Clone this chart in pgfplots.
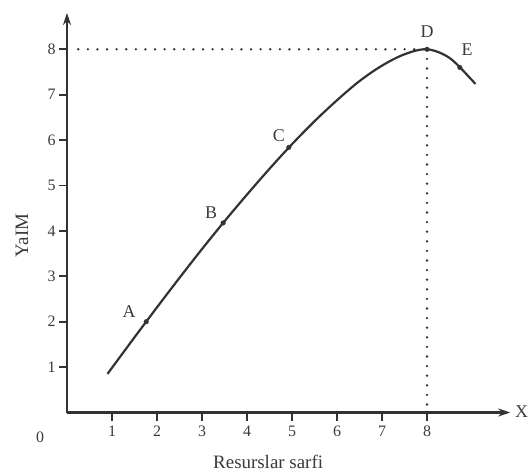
\documentclass[border=0pt]{standalone}
\usepackage{pgfplots}
\pgfplotsset{compat=1.18}
\usepackage{fontspec}
\setmainfont{Liberation Serif}
\usetikzlibrary{arrows.meta}
\definecolor{ink}{HTML}{333333}
\definecolor{txt}{HTML}{3A3A3A}
\begin{document}
\begin{tikzpicture}
\begin{axis}[
  at={(0,0)}, anchor=origin,
  x=45bp, y=45.4bp,
  xmin=0, xmax=9.85, ymin=0, ymax=8.8,
  axis lines=left,
  axis line style={ink, line width=2.3bp, -{Stealth[length=12bp,width=8bp]}},
  xtick={1,2,3,4,5,6,7,8}, ytick={1,2,3,4,5,6,7,8},
  tick align=outside, major tick length=8bp,
  tick style={ink, line width=1.8bp},
  tick label style={txt, font=\fontsize{16}{16}\selectfont},
  /pgf/number format/assume math mode=true,
  xticklabel style={yshift=-2bp},
  clip=false,
  xlabel={Resurslar sarfi},
  xlabel style={at={(axis cs:4.47,-1.09)}, anchor=center, txt, font=\fontsize{19}{19}\selectfont},
  ylabel={YaIM},
  ylabel style={at={(axis cs:-1.0,3.9)}, anchor=center, rotate=0, txt, font=\fontsize{19}{19}\selectfont},
]
\addplot[ink, line width=2.6bp, line cap=round, dash pattern=on 0pt off 9.6bp] coordinates {(0.25,8) (8,8)};
\addplot[ink, line width=2.6bp, line cap=round, dash pattern=on 0pt off 9.6bp] coordinates {(8,8) (8,0)};
\addplot[ink, line width=2.2bp, smooth, tension=0.55] coordinates {
  (0.9,0.85) (1,0.985) (1.5,1.656) (2,2.317) (2.5,2.966) (3,3.600) (3.5,4.212)
  (4,4.80) (4.5,5.368) (5,5.91) (5.5,6.415) (6,6.878) (6.5,7.30) (7,7.64)
  (7.5,7.89) (8,8.0) (8.5,7.81) (9,7.32) (9.07,7.23)};
\addplot[only marks, mark=*, mark size=2.3bp, ink] coordinates {
  (1.76,2.0) (3.47,4.175) (4.93,5.84) (8,8.0) (8.73,7.6)};
\node[txt, font=\fontsize{18}{18}\selectfont] at (axis cs:1.38,2.22) {A};
\node[txt, font=\fontsize{18}{18}\selectfont] at (axis cs:3.2,4.41) {B};
\node[txt, font=\fontsize{18}{18}\selectfont] at (axis cs:4.71,6.09) {C};
\node[txt, font=\fontsize{18}{18}\selectfont] at (axis cs:8.0,8.38) {D};
\node[txt, font=\fontsize{18}{18}\selectfont] at (axis cs:8.89,8.0) {E};
\node[txt, font=\fontsize{18}{18}\selectfont] at (axis cs:10.1,0.02) {X};
\node[txt, font=\fontsize{16}{16}\selectfont] at (axis cs:-0.6,-0.55) {0};
\end{axis}
\pgfresetboundingbox
\path[use as bounding box] (-67bp,-61.5bp) rectangle (464bp,412.5bp);
\end{tikzpicture}
\end{document}
